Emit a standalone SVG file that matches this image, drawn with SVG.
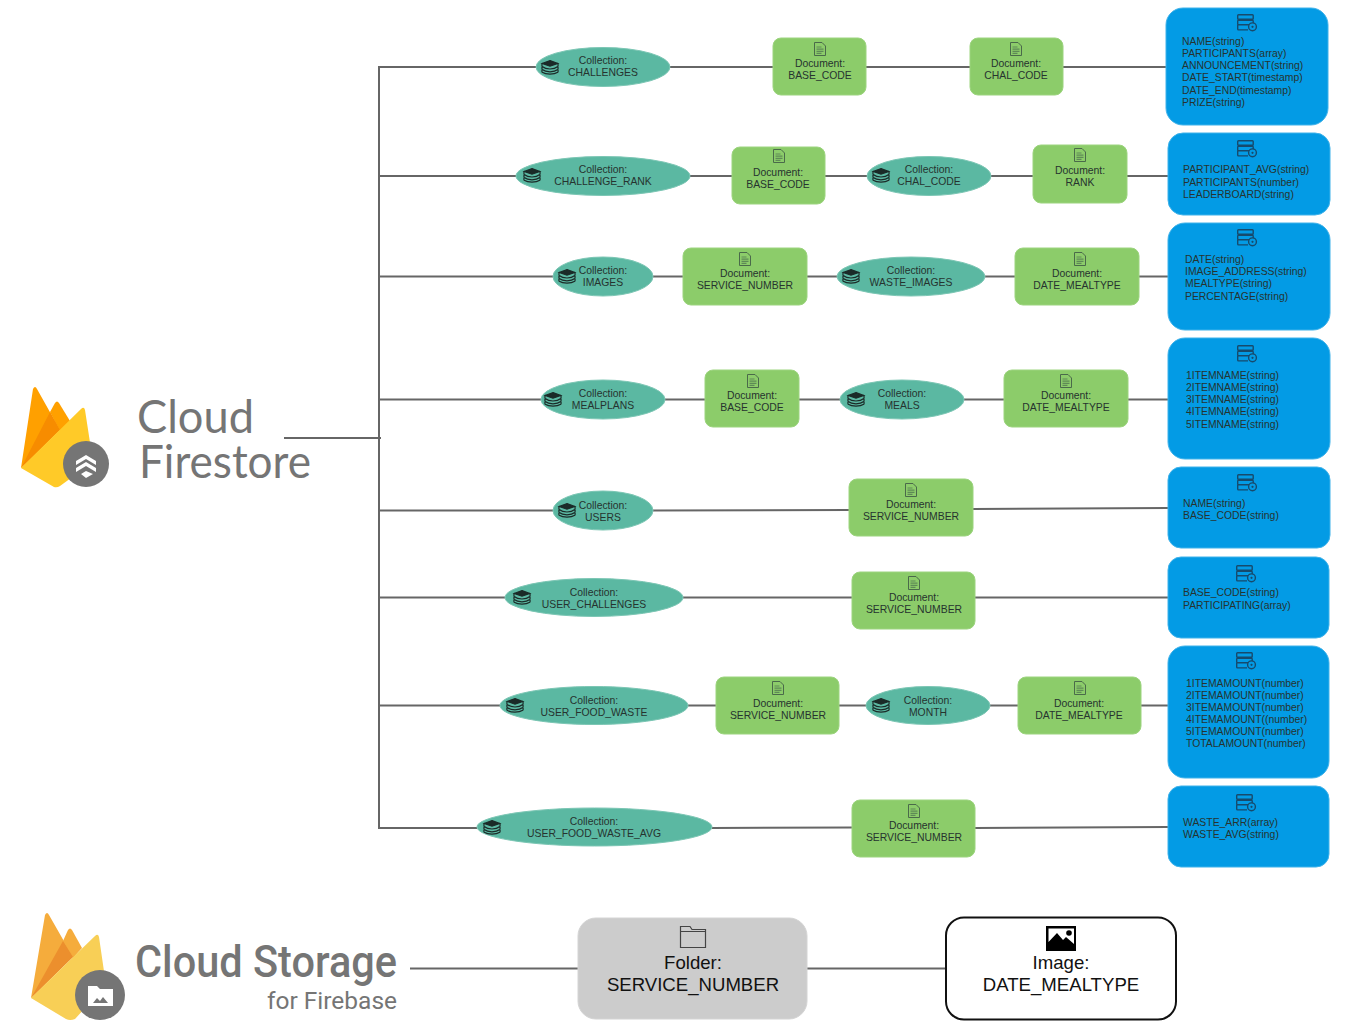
<svg xmlns="http://www.w3.org/2000/svg" xmlns:xlink="http://www.w3.org/1999/xlink" width="1353" height="1036" viewBox="0 0 1353 1036">
<style>
text{font-family:"Liberation Sans",Arial,sans-serif;font-size:10.4px;fill:#26332f}
.c{text-anchor:middle}
.coll{fill:#5bb8a2;stroke:#7cc6b4;stroke-width:1}
.doc{fill:#8ccc6a;stroke:#9cd47e;stroke-width:1}
.data{fill:#039be5;stroke:#3fb2ea;stroke-width:1}
.big{font-size:18.6px;fill:#111}
.logo{fill:#757575}
#connectors path{fill:none;stroke:#666;stroke-width:2}
</style>
<defs>
<symbol id="i-coll" viewBox="0 0 18 14" overflow="visible">
<g fill="none" stroke="#1b2b28" stroke-width="1.200"><path d="M9 .6L16.800 3.400 9 6.200 1.200 3.400Z" fill="#1b2b28"/><path d="M1.200 3.400C.5 5 1 6 1.200 6.500 3 8 6 9 9 9s6-1 7.800-2.500M1.200 6.500C.5 8 1 9 1.200 9.500 3 11 6 11.800 9 11.800s6-.8 7.800-2.300M1.200 9.500C.5 11 1 12 1.200 12.300 3 13.500 6 14.200 9 14.200s6-.7 7.800-1.900M16.800 3.400c.7 1.600.2 2.600 0 3.100M16.800 6.500c.7 1.500.2 2.500 0 3M16.800 9.500c.7 1.500.2 2.500 0 2.800"/></g>
</symbol>
<symbol id="i-doc" viewBox="0 0 12 14" overflow="visible">
<path d="M.5.500h7.500l3.500 3.500v9.500h-11z" fill="none" stroke="#4a6a4a" stroke-width="1"/><path d="M2.500 5h5M2.500 7.200h7M2.500 9.400h7M2.500 11.400h5" stroke="#5e8a56" stroke-width="1.200"/>
</symbol>
<symbol id="i-data" viewBox="0 0 20 17" overflow="visible">
<g fill="none" stroke="#174a6c" stroke-width="1.400"><rect x=".7" y=".7" width="15.500" height="4.600" rx=".8"/><rect x=".7" y="6.200" width="15.500" height="4.600" rx=".8"/><path d="M.7 10.800v4.300q0 .8 .8 .8h9.500"/><circle cx="15.500" cy="12.800" r="3.900" fill="#039be5"/></g><circle cx="15.500" cy="12.800" r="1.100" fill="#174a6c"/>
</symbol>
</defs>
<rect width="1353" height="1036" fill="#fff"/>

<g id="connectors">
<path d="M379 67V828"/>
<path d="M284 438H381"/>
<path d="M378 67H536M670 67H773M866 67H970M1063 67H1166"/>
<path d="M378 176H516M690 176H732M825 176H867M991 176H1033M1127 176H1168"/>
<path d="M378 276.500H553M653 276.500H683M807 276.500H837M985 276.500H1015M1139 276.500H1168"/>
<path d="M378 399.500H541M665 399.500H705M799 399.500H840M964 399.500H1004M1128 399.500H1168"/>
<path d="M378 510.500H553M653 510.500L849 510M973 509L1168 508"/>
<path d="M378 597.500H505M683 597.500H852M975 597.500H1168"/>
<path d="M378 705.500H500M688 705.500H716M839 705.500H867M990 705.500H1018M1141 705.500H1168"/>
<path d="M378 828H477M712 828L852 827.500M975 828L1168 827"/>
<path d="M410 968.500H578M807 968.500H946"/>
</g>

<g id="firestore-logo">
<path d="M50 412L55 403Q57 400 59 403L70 421L60 431Z" fill="#ffa000"/>
<path d="M21 468L33 389Q35 385 37 389L60 430Z" fill="#ffa000"/>
<path d="M21 468L50 412L60 430Z" fill="#f78c00"/>
<path d="M21 468L81 409Q84 406 85 410L93 462L60 486Q57 488 54 487Z" fill="#ffca28"/>
<circle cx="86" cy="464" r="23" fill="#757575"/>
<path d="M76 461L86 455L96 461V465L86 459L76 465ZM76 468L86 462L96 468V472L86 466L76 472ZM81 474L86 471L93 474L86 478Z" fill="#fff"/>
<text x="137" y="433" class="logo" style="font-family:Lato,'Liberation Sans',sans-serif;font-size:46px" textLength="117" lengthAdjust="spacingAndGlyphs">Cloud</text>
<text x="139" y="478" class="logo" style="font-family:Lato,'Liberation Sans',sans-serif;font-size:46px" textLength="172" lengthAdjust="spacingAndGlyphs">Firestore</text>
</g>

<g id="challenges-row">
<g id="n1"><ellipse class="coll" cx="603" cy="67" rx="67" ry="19.500"/><use href="#i-coll" x="541" y="60" width="18" height="14"/><text class="c" x="603" y="64">Collection:</text><text class="c" x="603" y="76">CHALLENGES</text></g>
<g id="n2"><rect class="doc" x="773" y="38" width="93" height="57" rx="8"/><use href="#i-doc" x="814" y="42" width="12" height="14"/><text class="c" x="820" y="67">Document:</text><text class="c" x="820" y="79">BASE_CODE</text></g>
<g id="n3"><rect class="doc" x="970" y="38" width="93" height="57" rx="8"/><use href="#i-doc" x="1010" y="42" width="12" height="14"/><text class="c" x="1016" y="67">Document:</text><text class="c" x="1016" y="79">CHAL_CODE</text></g>
<g id="n4"><rect class="data" x="1166" y="8" width="162" height="117" rx="17"/><use href="#i-data" x="1237" y="14" width="20" height="17"/><text x="1182" y="45">NAME(string)</text><text x="1182" y="57">PARTICIPANTS(array)</text><text x="1182" y="69">ANNOUNCEMENT(string)</text><text x="1182" y="81">DATE_START(timestamp)</text><text x="1182" y="94">DATE_END(timestamp)</text><text x="1182" y="106">PRIZE(string)</text></g>
</g>

<g id="rank-row">
<g id="n5"><ellipse class="coll" cx="603" cy="176" rx="87" ry="19.500"/><use href="#i-coll" x="523" y="168" width="18" height="14"/><text class="c" x="603" y="173">Collection:</text><text class="c" x="603" y="185">CHALLENGE_RANK</text></g>
<g id="n6"><rect class="doc" x="732" y="147" width="93" height="57" rx="8"/><use href="#i-doc" x="773" y="149" width="12" height="14"/><text class="c" x="778" y="176">Document:</text><text class="c" x="778" y="188">BASE_CODE</text></g>
<g id="n7"><ellipse class="coll" cx="929" cy="176" rx="62" ry="19.500"/><use href="#i-coll" x="872" y="168" width="18" height="14"/><text class="c" x="929" y="173">Collection:</text><text class="c" x="929" y="185">CHAL_CODE</text></g>
<g id="n8"><rect class="doc" x="1033" y="145" width="94" height="58" rx="8"/><use href="#i-doc" x="1074" y="148" width="12" height="14"/><text class="c" x="1080" y="174">Document:</text><text class="c" x="1080" y="186">RANK</text></g>
<g id="n9"><rect class="data" x="1168" y="133" width="162" height="82" rx="15"/><use href="#i-data" x="1237" y="140" width="20" height="17"/><text x="1183" y="173">PARTICIPANT_AVG(string)</text><text x="1183" y="186">PARTICIPANTS(number)</text><text x="1183" y="198">LEADERBOARD(string)</text></g>
</g>

<g id="images-row">
<g id="n10"><ellipse class="coll" cx="603" cy="276.500" rx="50" ry="19.500"/><use href="#i-coll" x="558" y="269" width="18" height="14"/><text class="c" x="603" y="274">Collection:</text><text class="c" x="603" y="286">IMAGES</text></g>
<g id="n11"><rect class="doc" x="683" y="248" width="124" height="57" rx="8"/><use href="#i-doc" x="739" y="252" width="12" height="14"/><text class="c" x="745" y="277">Document:</text><text class="c" x="745" y="289">SERVICE_NUMBER</text></g>
<g id="n12"><ellipse class="coll" cx="911" cy="276.500" rx="74" ry="19.500"/><use href="#i-coll" x="842" y="269" width="18" height="14"/><text class="c" x="911" y="274">Collection:</text><text class="c" x="911" y="286">WASTE_IMAGES</text></g>
<g id="n13"><rect class="doc" x="1015" y="248" width="124" height="57" rx="8"/><use href="#i-doc" x="1074" y="252" width="12" height="14"/><text class="c" x="1077" y="277">Document:</text><text class="c" x="1077" y="289">DATE_MEALTYPE</text></g>
<g id="n14"><rect class="data" x="1168" y="223" width="162" height="107" rx="17"/><use href="#i-data" x="1237" y="229" width="20" height="17"/><text x="1185" y="263">DATE(string)</text><text x="1185" y="275">IMAGE_ADDRESS(string)</text><text x="1185" y="287">MEALTYPE(string)</text><text x="1185" y="300">PERCENTAGE(string)</text></g>
</g>

<g id="meals-row">
<g id="n15"><ellipse class="coll" cx="603" cy="399.500" rx="62" ry="19.500"/><use href="#i-coll" x="544" y="392" width="18" height="14"/><text class="c" x="603" y="397">Collection:</text><text class="c" x="603" y="409">MEALPLANS</text></g>
<g id="n16"><rect class="doc" x="705" y="370" width="94" height="57" rx="8"/><use href="#i-doc" x="747" y="374" width="12" height="14"/><text class="c" x="752" y="399">Document:</text><text class="c" x="752" y="411">BASE_CODE</text></g>
<g id="n17"><ellipse class="coll" cx="902" cy="399.500" rx="62" ry="19.500"/><use href="#i-coll" x="847" y="392" width="18" height="14"/><text class="c" x="902" y="397">Collection:</text><text class="c" x="902" y="409">MEALS</text></g>
<g id="n18"><rect class="doc" x="1004" y="370" width="124" height="57" rx="8"/><use href="#i-doc" x="1060" y="374" width="12" height="14"/><text class="c" x="1066" y="399">Document:</text><text class="c" x="1066" y="411">DATE_MEALTYPE</text></g>
<g id="n19"><rect class="data" x="1168" y="338" width="162" height="121" rx="17"/><use href="#i-data" x="1237" y="345" width="20" height="17"/><text x="1186" y="379">1ITEMNAME(string)</text><text x="1186" y="391">2ITEMNAME(string)</text><text x="1186" y="403">3ITEMNAME(string)</text><text x="1186" y="415">4ITEMNAME(string)</text><text x="1186" y="428">5ITEMNAME(string)</text></g>
</g>

<g id="users-row">
<g id="n20"><ellipse class="coll" cx="603" cy="510.500" rx="50" ry="19.500"/><use href="#i-coll" x="558" y="503" width="18" height="14"/><text class="c" x="603" y="509">Collection:</text><text class="c" x="603" y="521">USERS</text></g>
<g id="n21"><rect class="doc" x="849" y="479" width="124" height="57" rx="8"/><use href="#i-doc" x="905" y="483" width="12" height="14"/><text class="c" x="911" y="508">Document:</text><text class="c" x="911" y="520">SERVICE_NUMBER</text></g>
<g id="n22"><rect class="data" x="1168" y="467" width="162" height="81" rx="13"/><use href="#i-data" x="1237" y="474" width="20" height="17"/><text x="1183" y="507">NAME(string)</text><text x="1183" y="519">BASE_CODE(string)</text></g>
</g>

<g id="user-challenges-row">
<g id="n23"><ellipse class="coll" cx="594" cy="597.500" rx="89" ry="19"/><use href="#i-coll" x="513" y="590" width="18" height="14"/><text class="c" x="594" y="596">Collection:</text><text class="c" x="594" y="608">USER_CHALLENGES</text></g>
<g id="n24"><rect class="doc" x="852" y="572" width="123" height="57" rx="8"/><use href="#i-doc" x="908" y="576" width="12" height="14"/><text class="c" x="914" y="601">Document:</text><text class="c" x="914" y="613">SERVICE_NUMBER</text></g>
<g id="n25"><rect class="data" x="1168" y="557" width="161" height="81" rx="13"/><use href="#i-data" x="1236" y="565" width="20" height="17"/><text x="1183" y="596">BASE_CODE(string)</text><text x="1183" y="609">PARTICIPATING(array)</text></g>
</g>

<g id="user-food-waste-row">
<g id="n26"><ellipse class="coll" cx="594" cy="705.500" rx="94" ry="19"/><use href="#i-coll" x="506" y="698" width="18" height="14"/><text class="c" x="594" y="704">Collection:</text><text class="c" x="594" y="716">USER_FOOD_WASTE</text></g>
<g id="n27"><rect class="doc" x="716" y="677" width="123" height="57" rx="8"/><use href="#i-doc" x="772" y="681" width="12" height="14"/><text class="c" x="778" y="707">Document:</text><text class="c" x="778" y="719">SERVICE_NUMBER</text></g>
<g id="n28"><ellipse class="coll" cx="928" cy="705.500" rx="62" ry="19"/><use href="#i-coll" x="872" y="698" width="18" height="14"/><text class="c" x="928" y="704">Collection:</text><text class="c" x="928" y="716">MONTH</text></g>
<g id="n29"><rect class="doc" x="1018" y="677" width="123" height="57" rx="8"/><use href="#i-doc" x="1074" y="681" width="12" height="14"/><text class="c" x="1079" y="707">Document:</text><text class="c" x="1079" y="719">DATE_MEALTYPE</text></g>
<g id="n30"><rect class="data" x="1168" y="646" width="161" height="132" rx="17"/><use href="#i-data" x="1236" y="652" width="20" height="17"/><text x="1186" y="687">1ITEMAMOUNT(number)</text><text x="1186" y="699">2ITEMAMOUNT(number)</text><text x="1186" y="711">3ITEMAMOUNT(number)</text><text x="1186" y="723">4ITEMAMOUNT((number)</text><text x="1186" y="735">5ITEMAMOUNT(number)</text><text x="1186" y="747">TOTALAMOUNT(number)</text></g>
</g>

<g id="food-waste-avg-row">
<g id="n31"><ellipse class="coll" cx="594.500" cy="827" rx="117.500" ry="19"/><use href="#i-coll" x="483" y="820" width="18" height="14"/><text class="c" x="594" y="825">Collection:</text><text class="c" x="594" y="837">USER_FOOD_WASTE_AVG</text></g>
<g id="n32"><rect class="doc" x="852" y="800" width="123" height="57" rx="8"/><use href="#i-doc" x="908" y="804" width="12" height="14"/><text class="c" x="914" y="829">Document:</text><text class="c" x="914" y="841">SERVICE_NUMBER</text></g>
<g id="n33"><rect class="data" x="1168" y="786" width="161" height="81" rx="13"/><use href="#i-data" x="1236" y="794" width="20" height="17"/><text x="1183" y="826">WASTE_ARR(array)</text><text x="1183" y="838">WASTE_AVG(string)</text></g>
</g>

<g id="storage-logo">
<path d="M63 941L68 930Q70 927 72 930L82 948L73 958Z" fill="#f5ac3c"/>
<path d="M31 998L45 915Q47 911 49 915L73 957Z" fill="#f5ac3c"/>
<path d="M31 998L63 941L73 957Z" fill="#ec8f2d"/>
<path d="M31 998L95 936Q98 933 99 937L106 985L75 1019Q70 1021 66 1019Z" fill="#f8cf56"/>
<circle cx="100" cy="995" r="25" fill="#757575"/>
<path d="M88 986H97L100 989H113V1006H88Z" fill="#fff"/>
<path d="M93 1003L97 998L100 1001L103 997L108 1003Z" fill="#757575"/>
<text x="135" y="977" class="logo" style="font-family:Roboto,'Liberation Sans',sans-serif;font-size:45px;font-weight:500" textLength="262" lengthAdjust="spacingAndGlyphs">Cloud Storage</text>
<text x="267" y="1009" class="logo" style="font-family:Roboto,'Liberation Sans',sans-serif;font-size:24px" textLength="130" lengthAdjust="spacingAndGlyphs">for Firebase</text>
</g>

<g id="folder-node">
<rect x="578" y="918" width="229" height="101" rx="18" fill="#cccccc" stroke="#d4d4d4"/>
<path d="M680.500 947.500V926.500H690L692 929.500H705.500V947.500ZM680.500 931.500H705.500" fill="none" stroke="#444" stroke-width="1.200"/>
<text class="c big" x="693" y="969">Folder:</text><text class="c big" x="693" y="991">SERVICE_NUMBER</text>
</g>
<g id="image-node">
<rect x="946" y="917.500" width="230" height="102" rx="18" fill="#fff" stroke="#111" stroke-width="2"/>
<path d="M1046 926H1076V951H1046ZM1048.500 928.500V942L1057 933L1063 940L1066 937L1074 944V928.500Z" fill="#000" fill-rule="evenodd"/>
<circle cx="1069" cy="933" r="2.800" fill="#000"/>
<text class="c big" x="1061" y="969">Image:</text><text class="c big" x="1061" y="991">DATE_MEALTYPE</text>
</g>
</svg>
